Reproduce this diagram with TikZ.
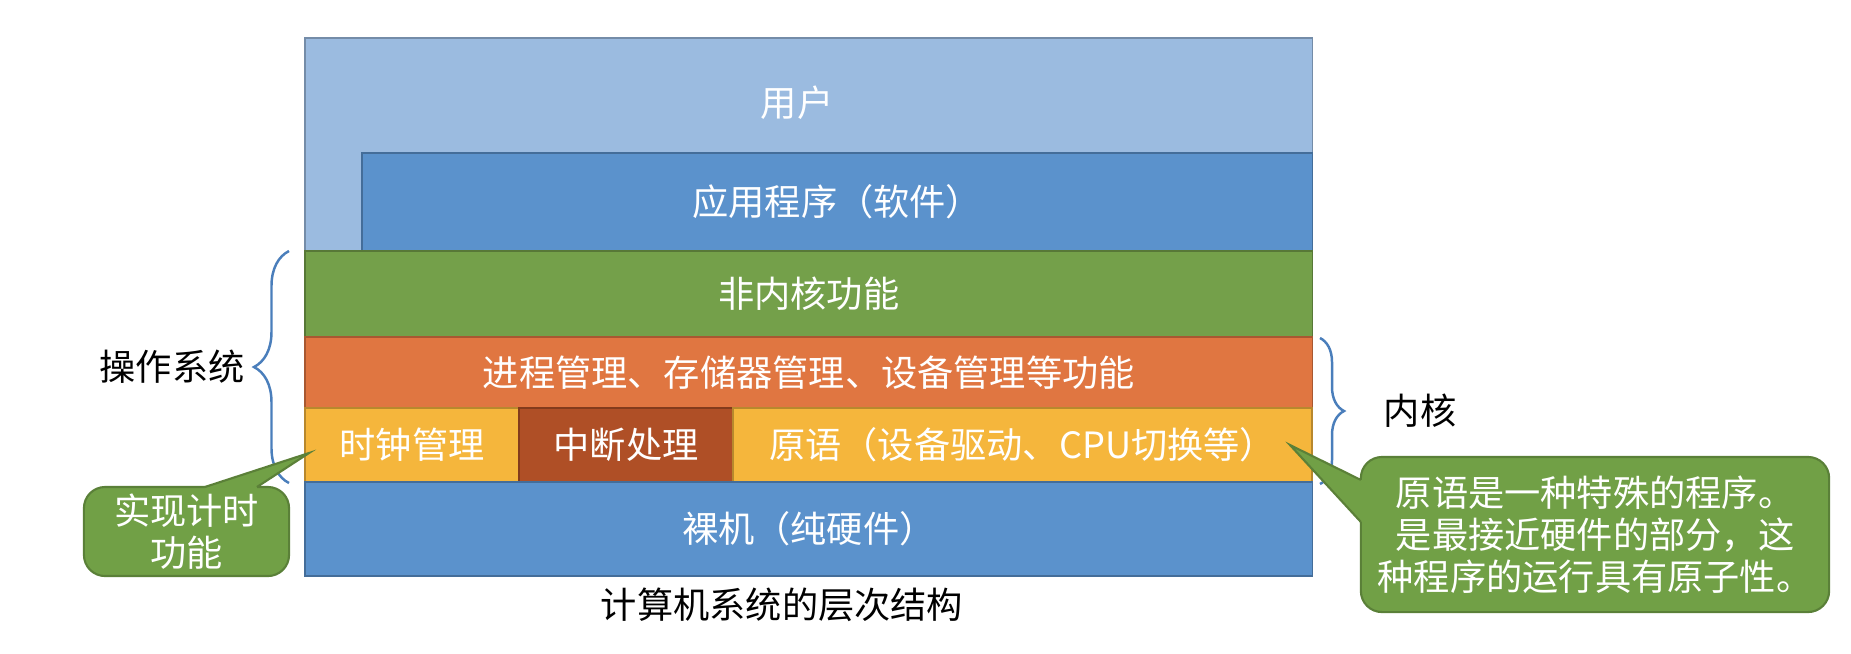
\documentclass[tikz,border=0pt]{standalone}
\usepackage{fontspec}
\setmainfont{Noto Sans CJK SC}
\usetikzlibrary{calc,decorations.pathreplacing}

\definecolor{userblue}{HTML}{9BBBE0}
\definecolor{appblue}{HTML}{5B92CC}
\definecolor{layergreen}{HTML}{74A04A}
\definecolor{layerorange}{HTML}{E07641}
\definecolor{layeryellow}{HTML}{F5B63C}
\definecolor{layerbrick}{HTML}{AF4F26}
\definecolor{notegreen}{HTML}{71A046}
\definecolor{braceblue}{HTML}{4A7EBB}

\newcommand{\txtsize}{\fontsize{10.3pt}{12pt}\selectfont}

\tikzset{
  layer/.style={draw=#1!75!black, fill=#1, line width=0.5pt, anchor=north west,
    inner sep=0pt, outer sep=0pt, text=white, font=\txtsize},
  note/.style={draw=notegreen!80!black, fill=notegreen, line width=0.6pt,
    rounded corners=6pt, inner sep=0pt, outer sep=0pt, align=center,
    text=white, font=\txtsize},
  curly/.style={draw=braceblue, line width=0.7pt, decorate,
    decoration={brace,amplitude=#1}},
  lbl/.style={font=\txtsize}
}

\begin{document}
\begin{tikzpicture}[x=0.01cm,y=-0.01cm]
    \useasboundingbox (0,0) rectangle (1851,653);

    % User and application layers
    \node[layer=userblue, minimum width=10.07cm, minimum height=2.13cm] (user) at (305,38) {};
    \node[lbl, text=white] (usertxt) at (797,103) {用户};
    \node[layer=appblue, minimum width=9.50cm, minimum height=0.98cm] (app) at (362,153) {应用程序（软件）};

    % Operating system layers
    \node[layer=layergreen, minimum width=10.07cm, minimum height=0.86cm] (nonkern) at (305,251) {非内核功能};
    \node[layer=layerorange, minimum width=10.07cm, minimum height=0.71cm] (mgmt) at (305,337) {进程管理、存储器管理、设备管理等功能};
    \node[layer=layeryellow, minimum width=2.14cm, minimum height=0.74cm] (clock) at (305,408) {时钟管理};
    \node[layer=layerbrick, minimum width=2.14cm, minimum height=0.74cm] (intr) at (519,408) {中断处理};
    \node[layer=layeryellow, minimum width=5.79cm, minimum height=0.74cm] (prim) at (733,408) {原语（设备驱动、CPU切换等）};

    % Hardware
    \node[layer=appblue, minimum width=10.07cm, minimum height=0.94cm] (bare) at (305,482) {裸机（纯硬件）};
    \node[lbl] (caption) at (782,605) {计算机系统的层次结构};

    % Braces
    \draw[curly=0.35cm] (289,483) -- (289,251);
    \node[lbl] (os) at (172,367) {操作系统};
    \draw[curly=0.24cm] (1320,338) -- (1320,484);
    \node[lbl] (kernel) at (1420,411) {内核};

    % Callout for the clock
    \node[note, minimum width=2.05cm, minimum height=0.89cm] (clknote) at (186.5,531.5) {实现计时\\功能};
    \coordinate (clktip) at (309,453);
    \coordinate (clkb1) at ($(clknote.north west)+(121,0)$);
    \coordinate (clkb2) at ($(clknote.north west)+(173,0)$);
    \fill[notegreen] (clkb1) -- (clktip) -- (clkb2) -- ++(0,2) -- ($(clkb1)+(0,2)$) -- cycle;
    \draw[notegreen!80!black, line width=0.6pt] (clkb1) -- (clktip) -- (clkb2);

    % Callout for the primitives
    \node[note, minimum width=4.68cm, minimum height=1.55cm] (primnote) at (1595,534.5)
      {原语是一种特殊的程序。\\是最接近硬件的部分，这\\种程序的运行具有原子性。};
    \coordinate (primtip) at (1290,445);
    \coordinate (primb1) at ($(primnote.north west)+(0,23)$);
    \coordinate (primb2) at ($(primnote.north west)+(0,65)$);
    \fill[notegreen] (primb1) -- (primtip) -- (primb2) -- ++(2,0) -- ($(primb1)+(2,0)$) -- cycle;
    \draw[notegreen!80!black, line width=0.6pt] (primb1) -- (primtip) -- (primb2);
\end{tikzpicture}
\end{document}
